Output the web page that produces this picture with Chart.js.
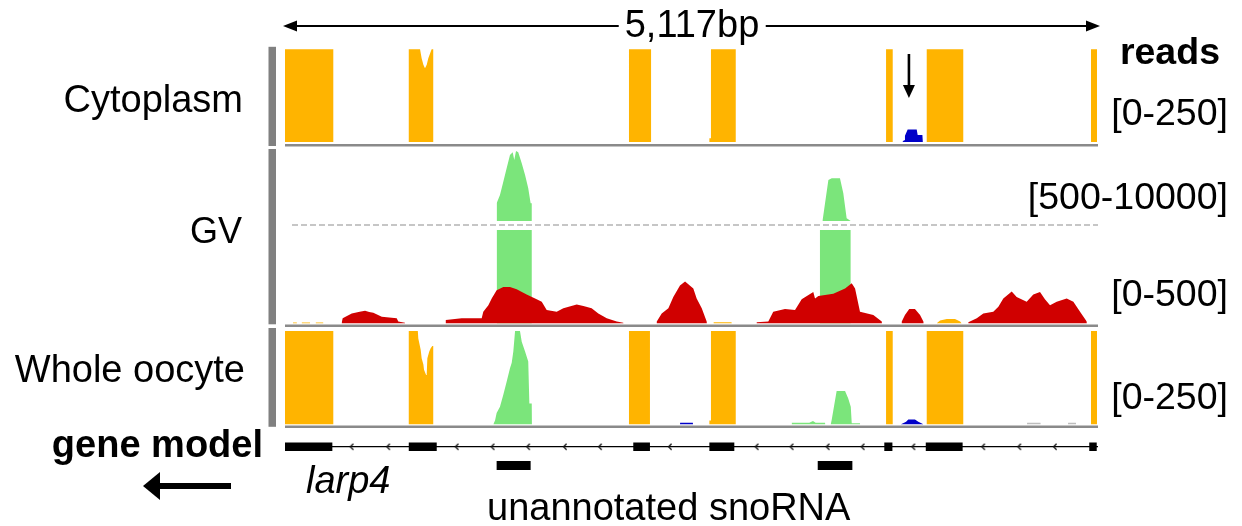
<!DOCTYPE html>
<html><head><meta charset="utf-8">
<script src="https://cdn.jsdelivr.net/npm/chart.js@4.4.0/dist/chart.umd.min.js"></script>
<style>
html,body{margin:0;padding:0;background:#fff;}
#wrap{position:relative;width:1242px;height:526px;overflow:hidden;font-family:"Liberation Sans",Arial,Helvetica,sans-serif;color:#000;}
#c{position:absolute;left:0;top:0;}
.t{position:absolute;white-space:nowrap;}
</style></head><body>
<div id="wrap"><canvas id="c" width="1242" height="526"></canvas></div>
<script>
// ---------------- data (genomic position in bp, coverage in reads) ----------------
const regionLength = 5117;
const trackLabels = ['Cytoplasm', 'GV', 'Whole oocyte', 'gene model'];
const rangeLabels = ['[0-250]', '[500-10000]', '[0-500]', '[0-250]'];
const unitLabel = 'reads';
const scaleBarLabel = '5,117bp';
const geneName = 'larp4';
const snoLabel = 'unannotated snoRNA';

// Cytoplasm [0-250]
const cytoOrange = [[0,0],[0,250],[304,250],[304,0],[779,0],[779,250],[850,250],[860,226],[871,208],[881,199],[892,208],[902,226],[913,239],[923,250],[933,250],[933,0],
  [2165,0],[2165,250],[2304,250],[2304,0],[2671,0],[2671,10],[2681,10],[2681,250],[2837,250],[2837,0],
  [3783,0],[3783,250],[3825,250],[3825,0],[4039,0],[4039,250],[4269,250],[4269,0],[5073,0],[5073,250],[5111,250],[5111,0]];
const cytoBlue = [[3885,0],[3896,5],[3902,17],[3919,34],[3976,34],[3982,19],[4012,19],[4015,0]];

// GV [500-10000] (upper) and [0-500] (lower)
const gvGreenHigh = [[1332,500],[1332,2868],[1353,3979],[1374,5758],[1395,7551],[1416,9331],[1433,9692],[1443,8662],[1454,9867],[1468,9692],[1490,8220],[1511,6655],[1531,4875],[1546,2868],[1553,2868],[1553,500],
  [3384,500],[3384,634],[3399,2868],[3420,5986],[3441,6213],[3493,6213],[3514,4206],[3535,861],[3561,500]];
const gvGreenLow = [[1332,0],[1332,500],[1553,500],[1553,0],[3367,0],[3367,500],[3561,500],[3561,0]];
const gvRed = [[356,0],[363,27],[420,53],[470,62],[504,67],[530,60],[556,56],[609,35],[703,27],[713,9],[755,3],[756,0],
  [1011,0],[1012,18],[1112,27],[1238,27],[1248,62],[1280,97],[1301,133],[1332,177],[1374,194],[1416,194],[1458,182],[1521,154],[1584,129],[1616,115],[1647,71],[1710,62],[1752,80],[1836,101],[1878,93],[1930,80],[1972,53],[2025,27],[2088,9],[2129,3],[2130,0],
  [2339,0],[2340,9],[2371,53],[2413,80],[2444,141],[2486,203],[2518,224],[2570,186],[2591,133],[2623,80],[2654,9],[2655,0],
  [2968,0],[2969,5],[3042,9],[3073,62],[3147,76],[3210,71],[3252,129],[3325,168],[3336,133],[3357,146],[3451,159],[3525,186],[3567,215],[3588,186],[3619,62],[3703,44],[3756,9],[3757,0],
  [3881,0],[3882,9],[3902,44],[3929,76],[3965,76],[3997,44],[4018,9],[4019,0],
  [4300,0],[4301,5],[4354,27],[4395,53],[4458,62],[4490,89],[4521,133],[4574,171],[4605,141],[4668,115],[4710,154],[4752,168],[4783,129],[4815,97],[4857,115],[4920,133],[4962,115],[5004,62],[5046,9],[5047,0]];
const gvOrange = [[50,0],[51,4],[74,4],[75,0],[105,0],[106,4],[157,4],[158,0],[193,0],[194,4],[240,4],[241,0],
  [2696,0],[2698,5],[2810,5],[2812,0],[4102,0],[4123,15],[4165,23],[4217,23],[4249,10],[4259,0]];

// Whole oocyte [0-250]
const wholeOrange = [[0,0],[0,250],[304,250],[304,0],[779,0],[779,250],[836,250],[839,230],[854,200],[860,177],[871,160],[875,146],[888,132],[892,135],[896,177],[908,195],[917,204],[927,210],[933,210],[933,0],
  [2165,0],[2165,250],[2297,250],[2297,0],[2671,0],[2671,10],[2681,10],[2681,250],[2837,250],[2837,0],
  [3783,0],[3783,250],[3825,250],[3825,0],[4039,0],[4039,250],[4269,250],[4269,0],[5073,0],[5073,250],[5111,250],[5111,0]];
const wholeGreen = [[1311,0],[1322,10],[1332,30],[1353,47],[1374,79],[1395,114],[1416,150],[1427,165],[1437,195],[1448,250],[1479,250],[1490,221],[1511,195],[1531,168],[1535,168],[1538,56],[1553,56],[1554,0],
  [3189,0],[3190,4],[3300,4],[3323,9],[3340,4],[3399,4],[3400,0],
  [3435,0],[3441,12],[3455,47],[3472,89],[3525,89],[3545,69],[3561,47],[3567,3],[3619,3],[3620,0]];
const wholeBlue = [[2486,0],[2487,4],[2567,4],[2568,0],[3877,0],[3909,7],[3923,13],[3965,13],[3986,7],[4018,0]];
const wholeGray = [[4670,0],[4671,4],[4755,4],[4756,0],[4928,0],[4929,4],[4978,4],[4979,0]];

// gene model (larp4, minus strand) and snoRNAs: [start, end] in bp
const exons = [[0,298],[779,955],[2192,2297],[2671,2828],[3772,3823],[4033,4265],[5062,5109]];
const snoRNAs = [[1332,1546],[3353,3571]];
const chevrons = [420,650,1081,1307,1531,1762,1983,2423,2969,3189,3416,3636,3955,4395,4622,4846];
const arrowMarkBp = 3927;   // snoRNA reads in cytoplasm

// ---------------- layout helpers ----------------
const T = 47, B = 480, L = 285, R = 1098;
function band(v0, p0, v1, p1){ const k = (p0 - p1) / (v1 - v0); return {min: v0 - (B - p0) / k, max: v1 + (p1 - T) / k}; }
const bCyto = band(0, 142, 250, 49.3);
const bHi = band(500, 221, 10000, 150);
const bLo = band(0, 323.3, 500, 230);
const bWhole = band(0, 424.3, 250, 331);
const bGene = band(0, 465.5, 1, 446.7);

const ORANGE = '#FFB400', GREEN = '#7BE57B', RED = '#D00000', BLUE = '#0000C8', GRAY = '#BDBDBD';
const pts = a => a.map(p => ({x: p[0], y: p[1]}));
const segs = (a, lvl) => a.flatMap(s => [{x: s[0], y: lvl}, {x: s[1], y: lvl}, {x: s[1], y: null}]);
function area(data, axis, color, order, fillTo){
  return {type: 'line', data: pts(data), yAxisID: axis, backgroundColor: color, borderColor: 'rgba(0,0,0,0)',
    borderWidth: 0, pointRadius: 0, tension: 0, fill: fillTo === undefined ? 'origin' : fillTo, order: order, spanGaps: false};
}

const chev = document.createElement('canvas');
chev.width = 6; chev.height = 8;
(function(){ const c = chev.getContext('2d'); c.strokeStyle = '#111'; c.lineWidth = 1.3;
  c.beginPath(); c.moveTo(4.6, 1); c.lineTo(1.6, 4); c.lineTo(4.6, 7); c.stroke(); })();

const decor = {
  id: 'decor',
  afterDatasetsDraw(chart){
    const ctx = chart.ctx, s = chart.scales, x = s.x;
    const x0 = x.getPixelForValue(0), x1 = x.getPixelForValue(regionLength);
    ctx.save();
    // left track bars
    ctx.fillStyle = '#808080';
    const bars = [[s.yCyto.getPixelForValue(250) - 2.5, s.yCyto.getPixelForValue(0) + 4],
                  [s.yHi.getPixelForValue(10000) - 1, s.yLo.getPixelForValue(0) + 1],
                  [s.yWhole.getPixelForValue(250) - 3, s.yWhole.getPixelForValue(0) + 2.5]];
    bars.forEach(b => ctx.fillRect(268.5, b[0], 7.5, b[1] - b[0]));
    // track separators
    ctx.strokeStyle = '#8A8A8A'; ctx.lineWidth = 2.5;
    [s.yCyto.getPixelForValue(0) + 3.2, s.yLo.getPixelForValue(0) + 2.5, s.yWhole.getPixelForValue(0) + 2.5].forEach(y => {
      ctx.beginPath(); ctx.moveTo(x0, y); ctx.lineTo(x1, y); ctx.stroke(); });
    // GV split dashed line
    ctx.strokeStyle = '#B4B4B4'; ctx.lineWidth = 1.6; ctx.setLineDash([6, 3]);
    const yd = s.yHi.getPixelForValue(500) + 4;
    ctx.beginPath(); ctx.moveTo(x0 + 7, yd); ctx.lineTo(x1, yd); ctx.stroke();
    ctx.setLineDash([]);
    // arrows
    ctx.fillStyle = '#000'; ctx.strokeStyle = '#000';
    const head = (tx, ty, dx, dy, len, half) => { ctx.beginPath(); ctx.moveTo(tx, ty);
      ctx.lineTo(tx - dx * len - dy * half, ty - dy * len - dx * half);
      ctx.lineTo(tx - dx * len + dy * half, ty - dy * len + dx * half); ctx.closePath(); ctx.fill(); };
    // scale bar
    const ys = 26, xa = x0 - 2, xb = x1 + 2;
    ctx.lineWidth = 2; ctx.beginPath(); ctx.moveTo(xa + 10, ys); ctx.lineTo(xb - 10, ys); ctx.stroke();
    head(xa, ys, -1, 0, 14, 5.5); head(xb, ys, 1, 0, 14, 5.5);
    // down arrow marking cytoplasmic snoRNA reads
    const xm = x.getPixelForValue(arrowMarkBp);
    ctx.lineWidth = 2.6; ctx.beginPath(); ctx.moveTo(xm, 54); ctx.lineTo(xm, 88); ctx.stroke();
    head(xm, 98, 0, 1, 13, 6);
    // transcription direction arrow
    ctx.lineWidth = 6; ctx.beginPath(); ctx.moveTo(155, 486); ctx.lineTo(231, 486); ctx.stroke();
    head(143, 486, -1, 0, 17, 14);
    ctx.restore();
  }
};

const datasets = [
  area(cytoOrange, 'yCyto', ORANGE, 2),
  area(cytoBlue, 'yCyto', BLUE, 1),
  area(gvGreenHigh, 'yHi', GREEN, 2, {value: 500}),
  area(gvRed, 'yLo', RED, 1),
  area(gvGreenLow, 'yLo', GREEN, 3),
  area(gvOrange, 'yLo', ORANGE, 0),
  area(wholeOrange, 'yWhole', ORANGE, 2),
  area(wholeGreen, 'yWhole', GREEN, 1),
  area(wholeBlue, 'yWhole', BLUE, 0),
  area(wholeGray, 'yWhole', GRAY, 0),
  {type: 'line', data: [{x: 0, y: 1}, {x: regionLength, y: 1}], yAxisID: 'yGene', borderColor: '#000', borderWidth: 1.2, pointRadius: 0, fill: false, order: 3},
  {type: 'line', data: segs(exons, 1), yAxisID: 'yGene', borderColor: '#000', borderWidth: 8.5, borderCapStyle: 'butt', pointRadius: 0, fill: false, spanGaps: false, order: 1},
  {type: 'line', data: segs(snoRNAs, 0), yAxisID: 'yGene', borderColor: '#000', borderWidth: 9, borderCapStyle: 'butt', pointRadius: 0, fill: false, spanGaps: false, order: 1},
  {type: 'line', data: chevrons.map(v => ({x: v, y: 1})), yAxisID: 'yGene', showLine: false, pointStyle: chev, pointRadius: 3, order: 2}
];

const yAx = b => ({type: 'linear', axis: 'y', position: 'left', display: false, min: b.min, max: b.max});
new Chart(document.getElementById('c'), {
  type: 'line',
  data: {datasets},
  options: {
    responsive: false, animation: false, events: [],
    layout: {padding: {left: L, right: 1242 - R, top: T, bottom: 526 - B}},
    plugins: {legend: {display: false}, tooltip: {enabled: false}, title: {display: false}},
    scales: {
      x: {type: 'linear', min: 0, max: regionLength, display: false},
      yCyto: yAx(bCyto), yHi: yAx(bHi), yLo: yAx(bLo), yWhole: yAx(bWhole), yGene: yAx(bGene)
    }
  },
  plugins: [decor]
});

// ---------------- text ----------------
const wrap = document.getElementById('wrap');
function label(text, opt){
  const d = document.createElement('div');
  d.className = 't'; d.textContent = text;
  const fs = opt.size || 38;
  d.style.fontSize = fs + 'px'; d.style.lineHeight = fs + 'px';
  d.style.top = (opt.base - 0.8465 * fs) + 'px';
  if (opt.weight) d.style.fontWeight = opt.weight;
  if (opt.italic) d.style.fontStyle = 'italic';
  if (opt.right !== undefined) d.style.right = (1242 - opt.right) + 'px';
  if (opt.left !== undefined) d.style.left = opt.left + 'px';
  if (opt.bg) { d.style.background = '#fff'; d.style.padding = '0 6px'; }
  if (opt.center !== undefined) { d.style.left = opt.center + 'px'; d.style.transform = 'translateX(-50%)'; }
  wrap.appendChild(d);
}
label(scaleBarLabel, {center: 692, base: 37, size: 38, bg: true});
label(trackLabels[0], {right: 243, base: 112, size: 38});
label(trackLabels[1], {right: 242, base: 243, size: 36});
label(trackLabels[2], {right: 245, base: 382, size: 38});
label(trackLabels[3], {right: 263, base: 457, size: 38, weight: 'bold'});
label(geneName, {left: 306, base: 493, size: 38, italic: true});
label(snoLabel, {left: 487, base: 520, size: 38});
label(unitLabel, {right: 1220, base: 65, size: 37.5, weight: 'bold'});
label(rangeLabels[0], {right: 1228, base: 126, size: 37.5});
label(rangeLabels[1], {right: 1228, base: 210, size: 37.5});
label(rangeLabels[2], {right: 1228, base: 307, size: 37.5});
label(rangeLabels[3], {right: 1228, base: 410, size: 37.5});
</script>
</body></html>
